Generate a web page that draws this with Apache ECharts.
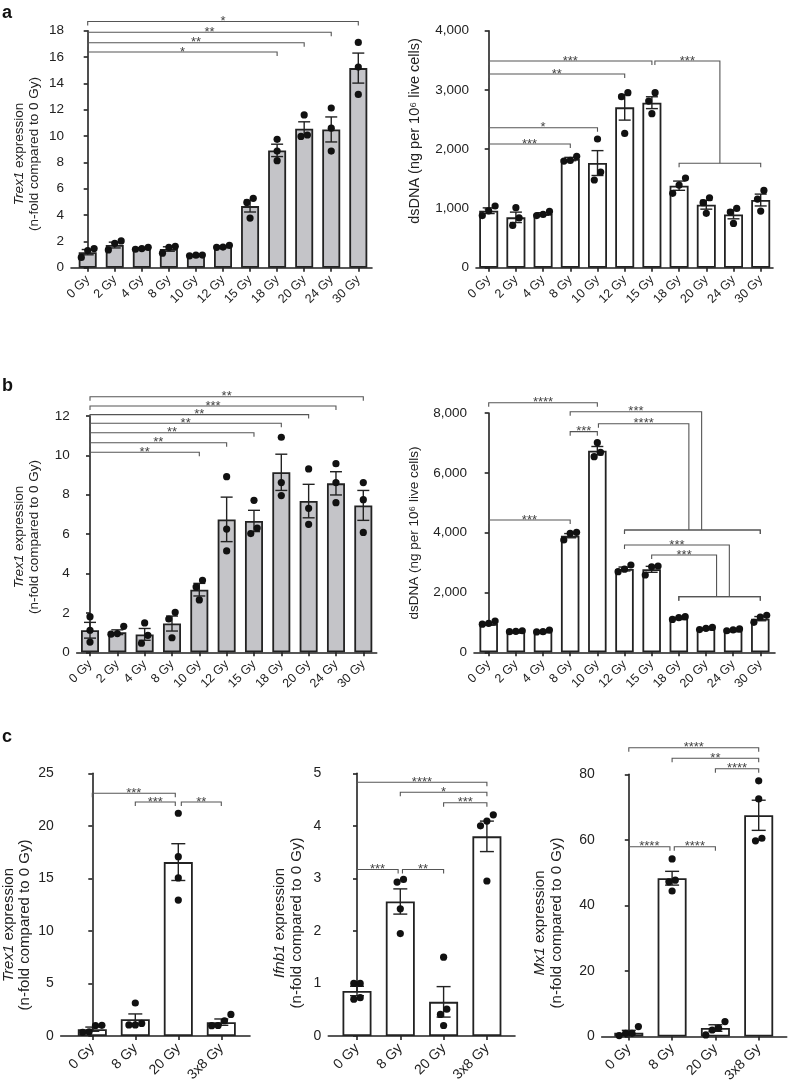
<!DOCTYPE html>
<html><head><meta charset="utf-8">
<script src="https://cdn.jsdelivr.net/npm/echarts@6/dist/echarts.min.js"></script>
<style>html,body{margin:0;padding:0;background:#fff}#c{width:788px;height:1085px}</style>
</head><body><div id="c"></div>
<script>
// ---------- categories ----------
const doseCats = ['0 Gy','2 Gy','4 Gy','8 Gy','10 Gy','12 Gy','15 Gy','18 Gy','20 Gy','24 Gy','30 Gy'];
const cCats = ['0 Gy','8 Gy','20 Gy','3x8 Gy'];

// ---------- panel a, left: Trex1 ----------
const aL_mean = [1.18, 1.72, 1.47, 1.42, 0.94, 1.6, 4.68, 8.91, 10.56, 10.5, 15.16];
const aL_sem  = [0.2, 0.22, 0.05, 0.17, 0.03, 0.05, 0.45, 0.47, 0.52, 0.95, 1.14];
const aL_pts  = [[1.45,0.78,1.3],[1.35,2.03,1.85],[1.55,1.4,1.45],[1.62,1.1,1.55],[0.95,0.9,0.96],[1.7,1.55,1.57],
                 [5.27,3.77,4.96],[9.75,8.86,8.13],[9.97,11.6,10.08],[8.86,10.6,12.13],[13.16,15.24,17.11]];
const aL_sig  = [[0,10,18.7,'*'],[0,9,17.88,'**'],[0,8,17.08,'**'],[0,7,16.38,'*']];
const aL_grp  = [];

// ---------- panel a, right: dsDNA ----------
const aR_mean = [962, 850, 906, 1834, 1766, 2706, 2785, 1384, 1063, 900, 1142];
const aR_sem  = [48, 88, 22, 28, 210, 215, 100, 78, 75, 75, 100];
const aR_pts  = [[880,1041,960],[714,1013,840],[950,880,900],[1880,1800,1810],[1480,2172,1615],[2954,2267,2886],
                 [2954,2600,2813],[1255,1513,1395],[1181,917,1097],[1001,748,940],[1305,956,1159]];
const aR_sig  = [[0,6,3489,'***'],[0,5,3268,'**'],[0,4,2363,'*'],[0,3,2088,'***']];
// [from, drop, level, label, groupFrom, groupTo, groupLevel]
const aR_grp  = [[6.11,8.5,3489,'***',7,10,1762]];

// ---------- panel b, left: Trex1 ----------
const bL_mean = [1.12, 1.02, 0.91, 1.46, 3.18, 6.75, 6.67, 9.14, 7.68, 8.58, 7.46];
const bL_sem  = [0.4, 0.12, 0.3, 0.38, 0.32, 1.13, 0.54, 0.92, 0.85, 0.59, 0.76];
const bL_pts  = [[1.81,1.12,0.52],[1.32,0.92,0.95],[1.49,0.86,0.46],[2.03,0.74,1.69],[3.66,2.66,3.32],[8.92,6.26,5.15],
                 [6.03,7.72,6.31],[10.92,8.62,7.96],[9.31,7.31,6.5],[9.58,8.62,7.6],[8.62,7.75,6.09]];
const bL_sig  = [[0,10,12.98,'**'],[0,9,12.51,'***'],[0,8,12.07,'**'],[0,7,11.63,'**'],[0,6,11.15,'**'],[0,5,10.64,'**'],[0,4,10.16,'**']];
const bL_grp  = [];

// ---------- panel b, right: dsDNA ----------
const bR_mean = [947, 680, 690, 3899, 6740, 2785, 2774, 1135, 785, 725, 1125];
const bR_sem  = [40, 15, 20, 70, 140, 65, 100, 30, 25, 20, 70];
const bR_pts  = [[1047,940,970],[720,690,700],[746,690,680],[4010,3754,3980],[6539,7007,6684],[2919,2696,2780],
                 [2885,2584,2860],[1192,1100,1160],[830,760,800],[780,720,750],[1237,1003,1180]];
const bR_sig  = [[0,4,8345,'****'],[3,4,7376,'***'],[0,3,4423,'***']];
const bR_grp  = [[3,7.84,8044,'***',5,10,4089],[4.04,7.37,7643,'****',5,10,4089],
                 [5,8.86,3587,'***',7,10,1860],[6,8.39,3253,'***',7,10,1860]];

// ---------- panel c: Trex1, Ifnb1, Mx1 ----------
const c1_mean = [0.65, 1.6, 16.55, 1.32];
const c1_sem  = [0.2, 0.5, 1.75, 0.3];
const c1_pts  = [[1.02,0.4,0.35,1.0],[1.2,3.14,1.05,1.05],[21.2,17.07,15.04,12.94],[1.45,2.05,1.0,0.98]];
const c1_sig  = [[0,1.93,23.1,'***'],[1,1.93,22.27,'***'],[2.07,3,22.27,'**']];

const c2_mean = [0.857, 2.56, 0.65, 3.8];
const c2_sem  = [0.09, 0.24, 0.29, 0.29];
const c2_pts  = [[1.0,0.7,1.0,0.73],[2.93,2.42,2.98,1.95],[1.5,0.51,0.41,0.2],[4.09,4.21,4.0,2.95]];
const c2_sig  = [[0,3,4.83,'****'],[1,3,4.64,'*'],[2,3,4.44,'***'],[0,0.95,3.17,'***'],[1.05,2,3.17,'**']];

const c3_mean = [1.2, 48.3, 2.6, 67.5];
const c3_sem  = [0.7, 2.1, 1.0, 4.6];
const c3_pts  = [[1.0,3.05,0.3,1.0],[54.2,47.7,47.2,44.4],[4.57,2.6,2.0,0.5],[78,72.5,60.5,59.7]];
const c3_sig  = [[0,3,88.1,'****'],[1,3,84.9,'**'],[2,3,81.7,'****'],[0,0.95,57.9,'****'],[1.05,2,57.9,'****']];

// ---------- layout / style ----------
const FONT = "'Liberation Sans', Arial, Helvetica, sans-serif";
const INK = '#222';
const GRAY = '#c4c4c8';
const thousands = v => v.toLocaleString('en-US');

const panels = [
  {cats:doseCats, mean:aL_mean, sem:aL_sem, pts:aL_pts, sig:aL_sig, grp:aL_grp, ymax:18, yint:2, fill:GRAY,
   L:{ax:71, top:30.7, bottom:267.7, c0:87.7, sp:27.06, right:372, barW:18, cap:6},
   title:{text:'{i|Trex1} expression\n(n-fold compared to 0 Gy)', x:26.5, y:154, f:13.5}, tf:13.5, xf:12.5, fmt:null},
  {cats:doseCats, mean:aR_mean, sem:aR_sem, pts:aR_pts, sig:aR_sig, grp:aR_grp, ymax:4000, yint:1000, fill:'#fff',
   L:{ax:476, top:30.7, bottom:267.7, c0:488.7, sp:27.2, right:773, barW:19, cap:6},
   title:{text:'dsDNA (ng per 10\u2076 live cells)', x:415, y:131, f:14.5}, tf:13.5, xf:12.5, fmt:thousands},
  {cats:doseCats, mean:bL_mean, sem:bL_sem, pts:bL_pts, sig:bL_sig, grp:bL_grp, ymax:12, yint:2, fill:GRAY,
   L:{ax:76.7, top:416, bottom:652.3, c0:90, sp:27.33, right:376.7, barW:18, cap:6},
   title:{text:'{i|Trex1} expression\n(n-fold compared to 0 Gy)', x:26.5, y:537, f:13.5}, tf:13.5, xf:12.5, fmt:null},
  {cats:doseCats, mean:bR_mean, sem:bR_sem, pts:bR_pts, sig:bR_sig, grp:bR_grp, ymax:8000, yint:2000, fill:'#fff',
   L:{ax:474, top:413, bottom:652.3, c0:488.7, sp:27.16, right:775, barW:18.5, cap:6},
   title:{text:'dsDNA (ng per 10\u2076 live cells)', x:414, y:533, f:13.5}, tf:13.5, xf:12.5, fmt:thousands},
  {cats:cCats, mean:c1_mean, sem:c1_sem, pts:c1_pts, sig:c1_sig, grp:[], ymax:25, yint:5, fill:'#fff',
   L:{ax:60.7, top:773.3, bottom:1036, c0:92.3, sp:43, right:250, barW:29, cap:7},
   title:{text:'{i|Trex1} expression\n(n-fold compared to 0 Gy)', x:17, y:925, f:15}, tf:14, xf:14, fmt:null},
  {cats:cCats, mean:c2_mean, sem:c2_sem, pts:c2_pts, sig:c2_sig, grp:[], ymax:5, yint:1, fill:'#fff',
   L:{ax:328.3, top:773.3, bottom:1036, c0:357, sp:43.3, right:515, barW:29, cap:7},
   title:{text:'{i|Ifnb1} expression\n(n-fold compared to 0 Gy)', x:288.5, y:923, f:15}, tf:14, xf:14, fmt:null},
  {cats:cCats, mean:c3_mean, sem:c3_sem, pts:c3_pts, sig:c3_sig, grp:[], ymax:80, yint:20, fill:'#fff',
   L:{ax:601.7, top:774.3, bottom:1036.7, c0:628.8, sp:43.3, right:786.7, barW:29, cap:7},
   title:{text:'{i|Mx1} expression\n(n-fold compared to 0 Gy)', x:548.5, y:923, f:15}, tf:14, xf:14, fmt:null}
];

// horizontal spread of overlapping replicate dots (computed layout)
const R = 3.6;
function swarm(vals, pxPerUnit) {
  const idx = vals.map((v, i) => i).sort((a, b) => vals[a] - vals[b]);
  const off = new Array(vals.length).fill(0);
  const clusters = [];
  let cl = [idx[0]];
  for (let k = 1; k < idx.length; k++) {
    if ((vals[idx[k]] - vals[idx[k - 1]]) * pxPerUnit < 2 * R * 1.25) cl.push(idx[k]);
    else { clusters.push(cl); cl = [idx[k]]; }
  }
  clusters.push(cl);
  clusters.forEach(c => c.forEach((id, j) => { off[id] = (j - (c.length - 1) / 2) * 6.4; }));
  return off;
}

const grid = [], xAxis = [], yAxis = [], series = [], graphic = [];
const lineSt = {color: INK, width: 1.6};
const brSt = {stroke: '#555', lineWidth: 1.1, fill: null};
const TICK = 4;

panels.forEach((p, k) => {
  const L = p.L;
  const ticks = p.cats.map((c, i) => i);
  grid.push({left: L.ax, top: L.top, width: L.right - L.ax, height: L.bottom - L.top});
  xAxis.push({gridIndex: k, type: 'value', min: (L.ax - L.c0) / L.sp, max: (L.right - L.c0) / L.sp,
    splitLine: {show: false},
    axisLine: {show: true, onZero: false, lineStyle: lineSt},
    axisTick: {show: true, length: 4, customValues: ticks, lineStyle: lineSt},
    axisLabel: {show: true, customValues: ticks, formatter: v => p.cats[Math.round(v)], rotate: 45, margin: 10,
      fontSize: p.xf, color: INK, fontFamily: FONT}});
  yAxis.push({gridIndex: k, type: 'value', min: 0, max: p.ymax, interval: p.yint,
    splitLine: {show: false},
    axisLine: {show: true, lineStyle: lineSt},
    axisTick: {show: true, length: 4, lineStyle: lineSt},
    axisLabel: {fontSize: p.tf, color: INK, fontFamily: FONT, margin: 7,
      formatter: p.fmt ? p.fmt : (v => String(v))}});

  series.push({type: 'bar', xAxisIndex: k, yAxisIndex: k, barWidth: L.barW, silent: true, z: 2,
    data: p.mean.map((m, i) => [i, m]),
    itemStyle: {color: p.fill, borderColor: INK, borderWidth: 1.8}});

  series.push({type: 'custom', xAxisIndex: k, yAxisIndex: k, silent: true, z: 3, clip: false,
    data: p.mean.map((m, i) => [i, m, p.sem[i]]),
    renderItem: (params, api) => {
      const x = api.value(0), m = api.value(1), s = api.value(2);
      const t = api.coord([x, m + s]), b = api.coord([x, m - s]);
      const st = {stroke: INK, lineWidth: 1.4};
      return {type: 'group', children: [
        {type: 'line', shape: {x1: t[0], y1: t[1], x2: b[0], y2: b[1]}, style: st},
        {type: 'line', shape: {x1: t[0] - L.cap, y1: t[1], x2: t[0] + L.cap, y2: t[1]}, style: st},
        {type: 'line', shape: {x1: b[0] - L.cap, y1: b[1], x2: b[0] + L.cap, y2: b[1]}, style: st}
      ]};
    }});

  const pxPerUnit = (L.bottom - L.top) / p.ymax;
  const dots = [];
  p.pts.forEach((vals, i) => {
    const off = swarm(vals, pxPerUnit);
    vals.forEach((v, j) => dots.push([i, v, off[j]]));
  });
  series.push({type: 'custom', xAxisIndex: k, yAxisIndex: k, silent: true, z: 4, clip: false,
    data: dots,
    renderItem: (params, api) => {
      const c = api.coord([api.value(0), api.value(1)]);
      return {type: 'circle', shape: {cx: c[0] + api.value(2), cy: c[1], r: R}, style: {fill: '#111'}};
    }});

  const star = (x, y, txt) => ({type: 'text', style: {text: txt, x: x, y: y + 6.5, align: 'center',
    verticalAlign: 'bottom', fontSize: 13, fontFamily: FONT, fill: '#444'}});

  series.push({type: 'custom', xAxisIndex: k, yAxisIndex: k, silent: true, z: 5, clip: false,
    data: p.sig.map(s => [s[0], s[1], s[2]]),
    renderItem: (params, api) => {
      const s = p.sig[params.dataIndex];
      const a = api.coord([s[0], s[2]]), b = api.coord([s[1], s[2]]);
      return {type: 'group', children: [
        {type: 'polyline', shape: {points: [[a[0], a[1] + TICK], [a[0], a[1]], [b[0], b[1]], [b[0], b[1] + TICK]]}, style: brSt},
        star((a[0] + b[0]) / 2, a[1], s[3])
      ]};
    }});

  if (p.grp.length) {
    series.push({type: 'custom', xAxisIndex: k, yAxisIndex: k, silent: true, z: 5, clip: false,
      data: p.grp.map(g => [g[0], g[1], g[2], g[4], g[5], g[6]]),
      renderItem: (params, api) => {
        const g = p.grp[params.dataIndex];
        const a = api.coord([g[0], g[2]]), d = api.coord([g[1], g[2]]);
        const dl = api.coord([g[1], g[6]]);
        const gl = api.coord([g[4], g[6]]), gr = api.coord([g[5], g[6]]);
        return {type: 'group', children: [
          {type: 'polyline', shape: {points: [[a[0], a[1] + TICK], [a[0], a[1]], [d[0], d[1]], [dl[0], dl[1]]]}, style: brSt},
          {type: 'polyline', shape: {points: [[gl[0], gl[1] + TICK], [gl[0], gl[1]], [gr[0], gr[1]], [gr[0], gr[1] + TICK]]}, style: brSt},
          star((a[0] + d[0]) / 2, a[1], g[3])
        ]};
      }});
  }

  const f = p.title.f;
  graphic.push({type: 'text', x: p.title.x, y: p.title.y, rotation: Math.PI / 2, z: 10,
    style: {text: p.title.text, align: 'center', verticalAlign: 'middle', fontSize: f, lineHeight: f + 1.5,
      fontFamily: FONT, fill: INK,
      rich: {i: {fontStyle: 'italic', fontSize: f, lineHeight: f + 1.5, fontFamily: FONT, fill: INK}}}});
});

[['a', 2, 4], ['b', 2, 377], ['c', 2, 728]].forEach(t => {
  graphic.push({type: 'text', x: t[1], y: t[2], z: 10,
    style: {text: t[0], fontSize: 18, fontWeight: 'bold', fontFamily: FONT, fill: '#111', align: 'left', verticalAlign: 'top'}});
});

const chart = echarts.init(document.getElementById('c'), null, {renderer: 'canvas'});
chart.setOption({animation: false, backgroundColor: '#fff', grid, xAxis, yAxis, series, graphic});
</script></body></html>
